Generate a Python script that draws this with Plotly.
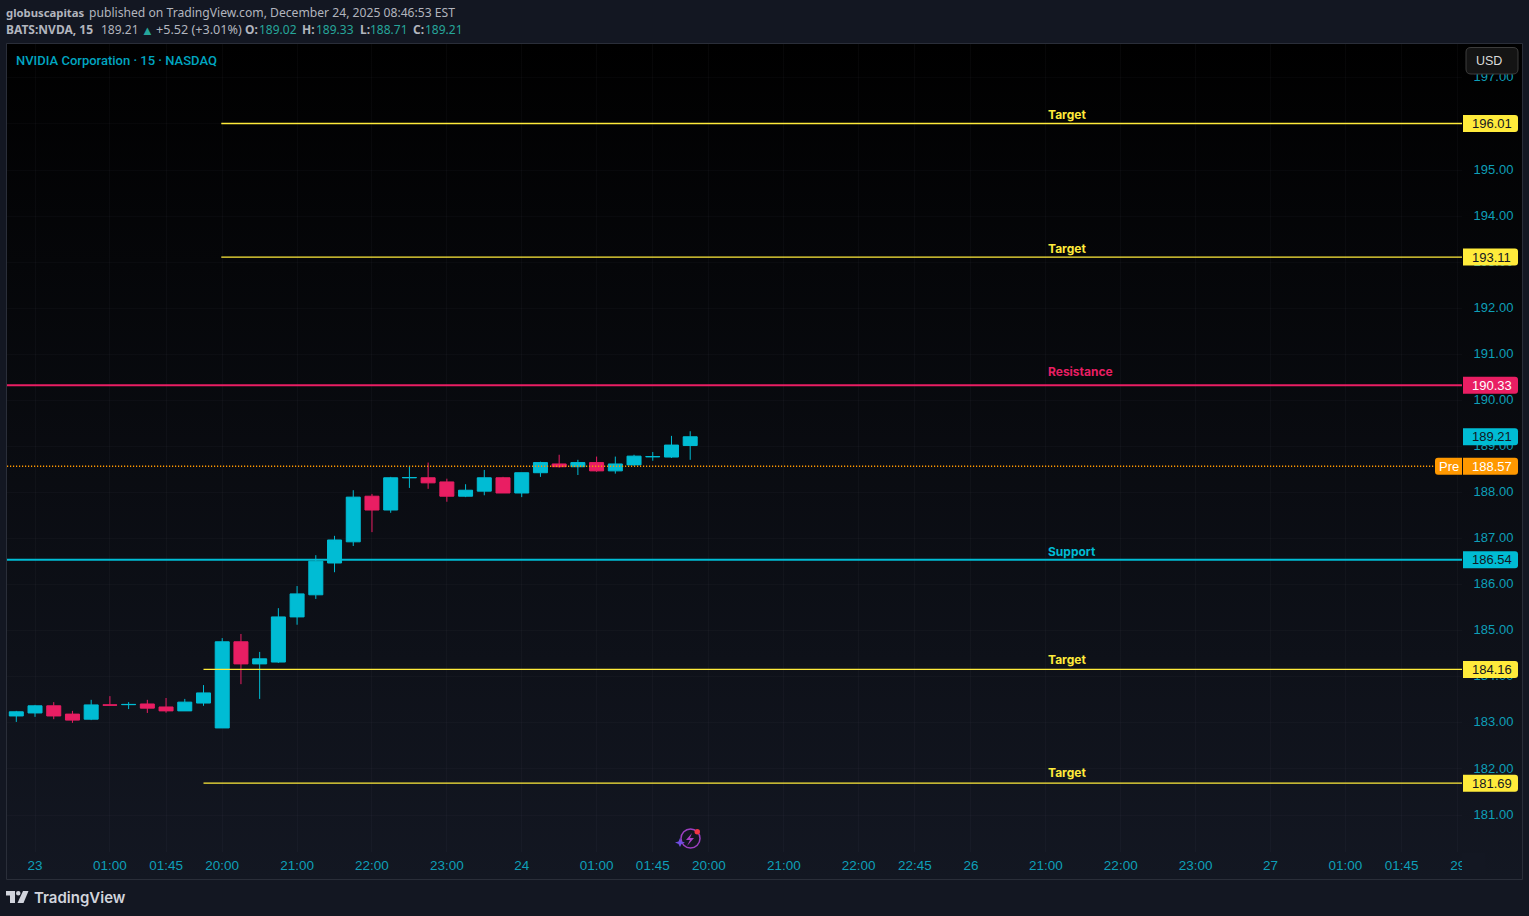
import plotly.graph_objects as go

BARS_X = list(range(37))
opens = [183.15, 183.215, 183.37, 183.19, 183.08, 183.39, 183.395, 183.41, 183.345, 183.26, 183.43, 182.89,
         184.76, 184.28, 184.32, 185.30, 185.78, 186.47, 186.93, 187.92, 187.62, 188.32, 188.32, 188.23,
         187.92, 188.03, 188.32, 187.99, 188.43, 188.62, 188.56, 188.65, 188.47, 188.60, 188.775, 188.77, 189.02]
highs = [183.26, 183.39, 183.45, 183.26, 183.50, 183.58, 183.45, 183.50, 183.54, 183.52, 183.82, 184.84,
         184.93, 184.54, 185.49, 185.97, 186.64, 187.06, 188.05, 187.97, 188.34, 188.58, 188.65, 188.30,
         188.18, 188.49, 188.34, 188.43, 188.67, 188.82, 188.71, 188.78, 188.78, 188.82, 188.88, 189.23, 189.33]
lows = [183.02, 183.13, 183.08, 183.00, 183.06, 183.38, 183.30, 183.215, 183.22, 183.26, 183.37, 182.89,
        183.84, 183.52, 184.30, 185.13, 185.69, 186.27, 186.84, 187.14, 187.56, 188.10, 188.08, 187.80,
        187.90, 187.94, 187.99, 187.90, 188.34, 188.54, 188.38, 188.45, 188.41, 188.58, 188.69, 188.75, 188.71]
closes = [183.24, 183.37, 183.15, 183.06, 183.39, 183.385, 183.40, 183.32, 183.26, 183.45, 183.65, 184.76,
          184.28, 184.39, 185.30, 185.80, 186.51, 186.97, 187.90, 187.62, 188.32, 188.325, 188.21, 187.92,
          188.05, 188.32, 187.99, 188.43, 188.65, 188.56, 188.65, 188.47, 188.62, 188.79, 188.78, 189.03, 189.21]

time_tick_pos = [1, 5, 8, 11, 15, 19, 23, 27, 31, 34, 37, 41, 45, 48, 51, 55, 59, 63, 67, 71, 74, 77]
time_tick_text = ['23', '01:00', '01:45', '20:00', '21:00', '22:00', '23:00', '24', '01:00', '01:45', '20:00',
                  '21:00', '22:00', '22:45', '26', '21:00', '22:00', '23:00', '27', '01:00', '01:45', '29']
price_ticks = list(range(181, 198))

target_prices = [196.01, 193.11, 184.16, 181.69]
target_starts = [10.95, 10.95, 10.0, 10.0]
resistance_price = 190.33
support_price = 186.54
last_price = 189.21
pre_price = 188.57

X_RANGE = [-0.497, 77.23]
Y_RANGE = [180.197, 197.736]
LABEL_X = 55.06

COLORS = {
    'page': '#131722', 'frame': '#2a2e39', 'up': '#00bcd4', 'down': '#e91e63', 'target': '#ffeb3b',
    'pre': '#ff9800', 'axis': '#0e9fb8', 'head': '#b2b5be', 'green': '#26a69a', 'tag_text': '#131722',
}
TICK_FONT = 'Liberation Sans, sans-serif'
HEAD_FONT = 'Noto Sans, sans-serif'
L, R, T, B = 7, 1462, 44, 852


def px(x):
    return (x - L) / (R - L)


def py(y):
    return 1 - (y - T) / (B - T)


def poly(points):
    return 'M' + ' L'.join(f'{px(x)},{py(y)}' for x, y in points) + ' Z'


def text(x, y, s, color, size, family=HEAD_FONT, weight=None):
    return dict(xref='paper', yref='paper', x=px(x), y=py(y), text=s, showarrow=False, xanchor='left',
                yanchor='middle', borderpad=0, font=dict(family=family, size=size, color=color, weight=weight))


def tag(price, label, fill, color):
    # right rounded label, sized in pixels and hung on the price
    shapes.append(dict(type='path', xref='paper', yref='y', xsizemode='pixel', ysizemode='pixel', xanchor=1,
                       yanchor=price, layer='above', fillcolor=fill, line_width=0,
                       path='M1,-8.5 L53,-8.5 Q56,-8.5 56,-5.5 L56,5.5 Q56,8.5 53,8.5 L1,8.5 Z'))
    annotations.append(dict(xref='paper', yref='y', x=px(1491.5), y=price, text=label, showarrow=False,
                            xanchor='center', yanchor='middle', borderpad=0,
                            font=dict(family=TICK_FONT, size=13, color=color)))


fig = go.Figure()

for price, start in zip(target_prices, target_starts):
    fig.add_trace(go.Scatter(x=[start, X_RANGE[1]], y=[price, price], mode='lines',
                             line=dict(color=COLORS['target'], width=1.3), hoverinfo='skip'))
fig.add_trace(go.Scatter(x=X_RANGE, y=[resistance_price, resistance_price], mode='lines',
                         line=dict(color=COLORS['down'], width=2), hoverinfo='skip'))
fig.add_trace(go.Scatter(x=X_RANGE, y=[support_price, support_price], mode='lines',
                         line=dict(color=COLORS['up'], width=2), hoverinfo='skip'))

fig.add_trace(go.Candlestick(
    x=BARS_X, open=opens, high=highs, low=lows, close=closes, whiskerwidth=0,
    increasing=dict(line=dict(color=COLORS['up'], width=1), fillcolor=COLORS['up']),
    decreasing=dict(line=dict(color=COLORS['down'], width=1), fillcolor=COLORS['down']),
))
fig.add_trace(go.Scatter(x=X_RANGE, y=[pre_price, pre_price], mode='lines',
                         line=dict(color=COLORS['pre'], width=1.5, dash='1.2px,1.8px'), hoverinfo='skip'))

shapes = []
annotations = []

# frame
shapes.append(dict(type='rect', xref='paper', yref='paper', x0=px(6.5), x1=px(1522.5), y0=py(879.5), y1=py(43.5),
                   line=dict(color=COLORS['frame'], width=1), layer='above'))
# hides the right half of the last time label
shapes.append(dict(type='rect', xref='paper', yref='paper', x0=px(1462), x1=px(1485), y0=py(878), y1=py(853),
                   fillcolor=COLORS['page'], line_width=0, layer='above'))

# USD button
shapes.append(dict(type='path', xref='paper', yref='paper', layer='above', fillcolor='#141414',
                   line=dict(color='#3c3c3c', width=1),
                   path=f'M{px(1471)},{py(47.5)} L{px(1513)},{py(47.5)} Q{px(1518)},{py(47.5)} {px(1518)},{py(52)} '
                        f'L{px(1518)},{py(69)} Q{px(1518)},{py(74)} {px(1513)},{py(74)} L{px(1471)},{py(74)} '
                        f'Q{px(1466)},{py(74)} {px(1466)},{py(69)} L{px(1466)},{py(52)} Q{px(1466)},{py(47.5)} {px(1471)},{py(47.5)} Z'))
annotations.append(text(1475, 61.5, 'USD', '#dbdbdb', 12.5, TICK_FONT))

# level tags
for price in target_prices:
    tag(price, f'{price:.2f}', COLORS['target'], COLORS['tag_text'])
tag(resistance_price, f'{resistance_price:.2f}', COLORS['down'], '#ffffff')
tag(support_price, f'{support_price:.2f}', COLORS['up'], COLORS['tag_text'])
tag(last_price, f'{last_price:.2f}', COLORS['up'], COLORS['tag_text'])
tag(pre_price, f'{pre_price:.2f}', COLORS['pre'], '#ffffff')
shapes.append(dict(type='path', xref='paper', yref='y', xsizemode='pixel', ysizemode='pixel', xanchor=1,
                   yanchor=pre_price, layer='above', fillcolor=COLORS['pre'], line_width=0,
                   path='M0,-8.5 L-24,-8.5 Q-27,-8.5 -27,-5.5 L-27,5.5 Q-27,8.5 -24,8.5 L0,8.5 Z'))
annotations.append(dict(xref='paper', yref='y', x=px(1448.5), y=pre_price, text='Pre', showarrow=False,
                        xanchor='center', yanchor='middle', borderpad=0,
                        font=dict(family=TICK_FONT, size=13, color='#ffffff')))

# level names, each with the gap to its line as it stands in the picture
level_names = [(196.01, 'Target', COLORS['target'], 9), (193.11, 'Target', COLORS['target'], 8.5),
               (184.16, 'Target', COLORS['target'], 9.5), (181.69, 'Target', COLORS['target'], 10.5),
               (resistance_price, 'Resistance', COLORS['down'], 13.5), (support_price, 'Support', COLORS['up'], 8)]
for price, name, color, gap in level_names:
    annotations.append(dict(xref='x', yref='y', x=LABEL_X, y=price, text=f'<b>{name}</b>', showarrow=False,
                            xanchor='left', yanchor='middle', yshift=gap, borderpad=0,
                            font=dict(family='Inter, sans-serif', size=12, color=color)))

# header
h = COLORS['head']
g = COLORS['green']
annotations.append(text(5, 12.5, '<b>globuscapitas</b>', h, 11.3))
annotations.append(text(87.5, 12.5, 'published on TradingView.com, December 24, 2025 08:46:53 EST', h, 12.15))
annotations.append(text(5, 29.5, '<b>BATS:NVDA, 15</b>', h, 12))
annotations.append(text(99.5, 29.5, '189.21', h, 12))
annotations.append(text(140, 29.5, '▲', g, 13))
annotations.append(text(155, 29.5, '+5.52 (+3.01%)', h, 12.6))
annotations.append(text(244, 29.5, '<b>O:</b>', h, 12))
annotations.append(text(258, 29.5, '189.02', g, 12))
annotations.append(text(301, 29.5, '<b>H:</b>', h, 12))
annotations.append(text(315, 29.5, '189.33', g, 12))
annotations.append(text(359, 29.5, '<b>L:</b>', h, 12))
annotations.append(text(369, 29.5, '188.71', g, 12))
annotations.append(text(412, 29.5, '<b>C:</b>', h, 12))
annotations.append(text(424.5, 29.5, '189.21', g, 12))
annotations.append(text(14.5, 60.5, 'NVIDIA Corporation · 15 · NASDAQ', '#00a5c0', 13, 'Roboto, sans-serif', 500))

# TradingView logo
shapes.append(dict(type='path', xref='paper', yref='paper', layer='above', fillcolor='#d1d4dc', line_width=0,
                   path=poly([(6, 891), (15, 891), (15, 903), (10, 903), (10, 895.5), (6, 895.5)])))
shapes.append(dict(type='circle', xref='paper', yref='paper', layer='above', fillcolor='#d1d4dc', line_width=0,
                   x0=px(16), x1=px(20.5), y0=py(895.5), y1=py(891)))
shapes.append(dict(type='path', xref='paper', yref='paper', layer='above', fillcolor='#d1d4dc', line_width=0,
                   path=poly([(23, 891), (28.5, 891), (23.5, 903), (17.5, 903)])))
annotations.append(text(33, 897, 'TradingView', '#d1d4dc', 15, 'Inter, sans-serif', 600))

# lightning badge
shapes.append(dict(type='circle', xref='paper', yref='paper', layer='above', line=dict(color='#9c3fc0', width=1.5),
                   x0=px(681), x1=px(700), y0=py(848), y1=py(829)))
shapes.append(dict(type='path', xref='paper', yref='paper', layer='above', fillcolor='#a83fc4', line_width=0,
                   path=poly([(692, 833), (686, 840), (690, 840), (687, 846), (694, 838), (690, 838)])))
shapes.append(dict(type='path', xref='paper', yref='paper', layer='above', fillcolor='#6f4de0', line_width=0,
                   path=poly([(680, 838), (681.5, 841.5), (685, 842.5), (681.5, 844), (680, 847),
                              (678.5, 844), (675, 842.5), (678.5, 841.5)])))
shapes.append(dict(type='circle', xref='paper', yref='paper', layer='above', fillcolor='#f23645', line_width=0,
                   x0=px(694.5), x1=px(700), y0=py(834.5), y1=py(829)))

grad = ("data:image/svg+xml;utf8,<svg xmlns='http://www.w3.org/2000/svg' width='10' height='100' preserveAspectRatio='none'>"
        "<defs><linearGradient id='g' x1='0' y1='0' x2='0' y2='1'>"
        "<stop offset='0' stop-color='%23000000'/><stop offset='1' stop-color='%23131722'/></linearGradient></defs>"
        "<rect width='10' height='100' fill='url(%23g)'/></svg>")

fig.update_layout(
    width=1529, height=916, showlegend=False,
    margin=dict(l=L, r=1529 - R, t=T, b=916 - B, pad=0),
    paper_bgcolor=COLORS['page'], plot_bgcolor='rgba(0,0,0,0)',
    hovermode=False, shapes=shapes, annotations=annotations,
    boxgap=0.135, boxgroupgap=0.135,
    images=[dict(source=grad, xref='paper', yref='paper', x=px(7), y=py(44), sizex=1515 / (R - L), sizey=835 / (B - T),
                 sizing='stretch', xanchor='left', yanchor='top', layer='below')],
    xaxis=dict(range=X_RANGE, rangeslider_visible=False, tickmode='array', tickvals=time_tick_pos,
               ticktext=time_tick_text, tickfont=dict(family=TICK_FONT, size=13.5, color=COLORS['axis']),
               ticks='outside', ticklen=1, tickcolor='rgba(0,0,0,0)', showgrid=True,
               gridcolor='rgba(120,123,134,0.06)', zeroline=False, showline=False),
    yaxis=dict(range=Y_RANGE, side='right', tickmode='array', tickvals=price_ticks,
               ticktext=[f'{v:.2f}' for v in price_ticks],
               tickfont=dict(family=TICK_FONT, size=13, color=COLORS['axis']),
               ticklabelshift=-1,
               ticks='outside', ticklen=8, tickcolor='rgba(0,0,0,0)', showgrid=True,
               gridcolor='rgba(120,123,134,0.05)', zeroline=False, showline=False),
)

fig.write_html("out.html", config=dict(displayModeBar=False),
               post_script="document.body.style.margin='0';document.body.style.overflow='hidden';"
                           "document.body.style.background='#131722';")
